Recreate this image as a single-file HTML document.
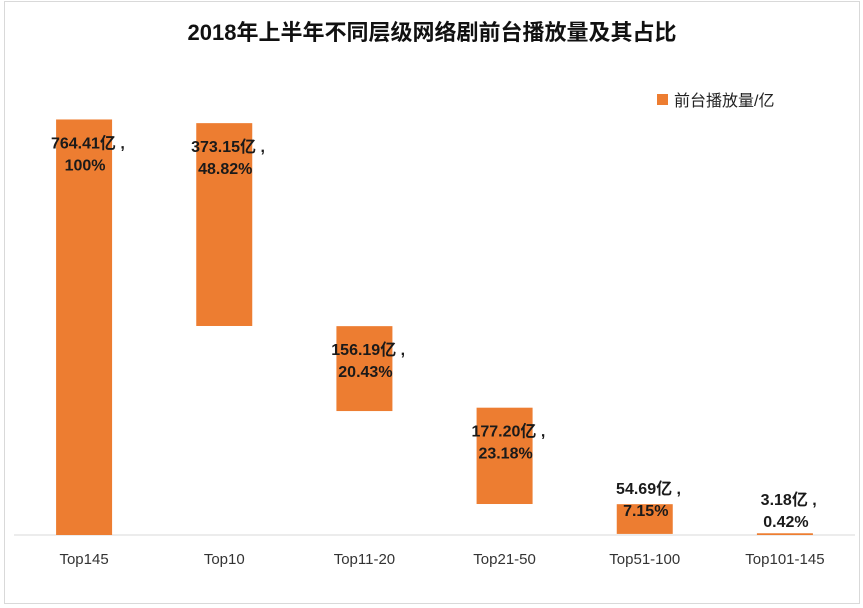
<!DOCTYPE html>
<html><head><meta charset="utf-8">
<style>
html,body{margin:0;padding:0;background:#fff;}
svg{display:block;font-family:"Liberation Sans","Noto Sans CJK SC",sans-serif;}
</style></head>
<body>
<svg id="chart" width="863" height="608" viewBox="0 0 863 608">
  <rect x="4.5" y="1.5" width="855" height="602" fill="#fff" stroke="#d9d9d9"/>
  <text x="432" y="40" text-anchor="middle" font-size="22" font-weight="bold" fill="#111">2018年上半年不同层级网络剧前台播放量及其占比</text>
  <rect x="657" y="94" width="11" height="11" fill="#ed7d31"/>
  <text x="674" y="106" font-size="16" fill="#222">前台播放量/亿</text>
  <line x1="14" y1="535" x2="855" y2="535" stroke="#d9d9d9" stroke-width="1"/>
  <g id="bars"></g>
</svg>
<script>
const categories = ["Top145","Top10","Top11-20","Top21-50","Top51-100","Top101-145"];
const values = [764.41, 373.15, 156.19, 177.20, 54.69, 3.18];
const bases = [0, 384.5, 228, 57, 2, 0];
const percents = ["100%","48.82%","20.43%","23.18%","7.15%","0.42%"];

const plotLeft = 14, plotRight = 855, axisY = 535, pxPerUnit = 0.5436;
const band = (plotRight - plotLeft) / categories.length;
function xCenter(i){ return plotLeft + band * (i + 0.5); }
function yScale(v){ return axisY - v * pxPerUnit; }
const barW = 56;
const g = document.getElementById('bars');
const NS = "http://www.w3.org/2000/svg";

categories.forEach((c, i) => {
  const cx = xCenter(i);
  const top = yScale(bases[i] + values[i]);
  const bottom = yScale(bases[i]);
  const h = Math.max(bottom - top, 1);
  const r = document.createElementNS(NS, 'rect');
  r.setAttribute('x', cx - barW / 2);
  r.setAttribute('y', top);
  r.setAttribute('width', barW);
  r.setAttribute('height', h);
  r.setAttribute('fill', '#ed7d31');
  
  
  g.appendChild(r);

  const l1 = h > 60 ? top + 24 : Math.min(top - 15, 500);
  const t = document.createElementNS(NS, 'text');
  t.setAttribute('text-anchor', 'middle');
  t.setAttribute('font-size', '16');
  t.setAttribute('font-weight', 'bold');
  t.setAttribute('fill', '#1a1a1a');
  
  
  const s1 = document.createElementNS(NS, 'tspan');
  s1.setAttribute('x', cx + 6);
  s1.setAttribute('y', l1 + 5);
  s1.textContent = values[i].toFixed(2) + '亿 , ';
  const s2 = document.createElementNS(NS, 'tspan');
  s2.setAttribute('x', cx + 1);
  s2.setAttribute('y', l1 + 27);
  s2.textContent = percents[i];
  t.appendChild(s1); t.appendChild(s2);
  g.appendChild(t);

  const cl = document.createElementNS(NS, 'text');
  cl.setAttribute('x', cx);
  cl.setAttribute('y', 564);
  cl.setAttribute('text-anchor', 'middle');
  cl.setAttribute('font-size', '15');
  cl.setAttribute('fill', '#333');
  
  
  cl.textContent = c;
  g.appendChild(cl);
});
</script>
</body></html>
